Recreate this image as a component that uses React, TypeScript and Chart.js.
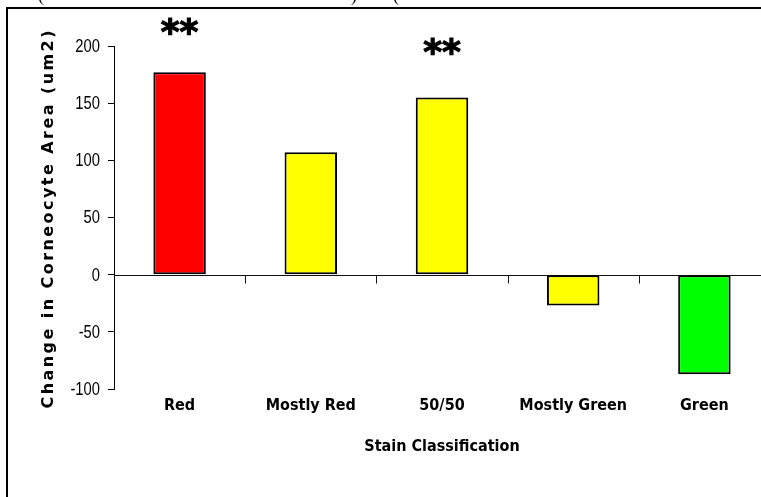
import React, { useEffect, useRef } from "react";
import { Chart, registerables } from "chart.js";

Chart.register(...registerables);

const categories = ["Red", "Mostly Red", "50/50", "Mostly Green", "Green"];
const values = [177, 107, 155, -27, -87];
const barColors = ["#FF0000", "#FFFF00", "#FFFF00", "#FFFF00", "#00FF00"];
const significance = ["**", "", "**", "", ""];
const significanceLevel = [215, null, 198, null, null];
const yMin = -100;
const yMax = 200;
const yStep = 50;
const yTitle = "Change in Corneocyte Area (um2)";
const xTitle = "Stain Classification";

const comicFont = "'DejaVu Sans Condensed', 'DejaVu Sans', sans-serif";

const decorPlugin = {
  id: "decor",
  beforeDraw(chart: any) {
    const ctx = chart.ctx;
    ctx.save();
    ctx.fillStyle = "#fff";
    ctx.fillRect(0, 0, chart.width, chart.height);
    ctx.strokeStyle = "#000";
    ctx.lineWidth = 2;
    ctx.beginPath();
    ctx.moveTo(7, chart.height + 2);
    ctx.lineTo(7, 8);
    ctx.lineTo(chart.width + 2, 8);
    ctx.stroke();
    ctx.fillStyle = "#000";
    ctx.font = "18px 'Liberation Serif', serif";
    ctx.textAlign = "center";
    ctx.textBaseline = "alphabetic";
    ctx.fillText("(", 41, 1);
    ctx.fillText(")", 354, 1);
    ctx.fillText("(", 396, 1);
    ctx.restore();
  },
  beforeDatasetsDraw(chart: any) {
    const ctx = chart.ctx;
    const { chartArea } = chart;
    const ys = chart.scales.y;
    const xs = chart.scales.x;
    const y0 = Math.round(ys.getPixelForValue(0)) + 0.5;
    ctx.save();
    ctx.strokeStyle = "#111";
    ctx.lineWidth = 1;
    ctx.beginPath();
    ctx.moveTo(chartArea.left, y0);
    ctx.lineTo(chart.width, y0);
    for (let i = 1; i <= categories.length; i++) {
      const x = Math.round(xs.getPixelForValue(i - 0.5)) + 0.5;
      ctx.moveTo(x, y0);
      ctx.lineTo(x, y0 + 8);
    }
    ctx.stroke();
    ctx.fillStyle = "#000";
    ctx.font = "18px 'Liberation Sans', Arial, sans-serif";
    ctx.textAlign = "right";
    ctx.textBaseline = "middle";
    const labelRight = chartArea.left - 14;
    ys.ticks.forEach((t: any) => {
      const y = ys.getPixelForValue(t.value);
      ctx.save();
      ctx.translate(labelRight, y + 1);
      ctx.scale(0.82, 1);
      ctx.fillText(String(t.value), 0, 0);
      ctx.restore();
    });
    ctx.restore();
  },
  afterDatasetsDraw(chart: any) {
    const ctx = chart.ctx;
    const { chartArea } = chart;
    const ys = chart.scales.y;
    const xs = chart.scales.x;
    ctx.save();
    ctx.fillStyle = "#000";
    ctx.strokeStyle = "#000";
    ctx.lineWidth = 1.2;
    ctx.font = "bold 36px 'DejaVu Sans', sans-serif";
    ctx.textAlign = "center";
    ctx.textBaseline = "middle";
    significance.forEach((s, i) => {
      const lvl = significanceLevel[i];
      if (!s || lvl == null) return;
      const px = xs.getPixelForValue(i);
      const py = ys.getPixelForValue(lvl) + 6;
      ctx.fillText(s, px, py);
      ctx.strokeText(s, px, py);
    });
    ctx.font = `bold 16px 'DejaVu Sans', sans-serif`;
    ctx.textBaseline = "alphabetic";
    const target = 378;
    const natural = ctx.measureText(yTitle).width;
    const spacing = (target - natural) / (yTitle.length - 1);
    (ctx as any).letterSpacing = `${spacing}px`;
    ctx.translate(53, (chartArea.top + chartArea.bottom) / 2 + 2);
    ctx.rotate(-Math.PI / 2);
    ctx.fillText(yTitle, spacing / 2, 0);
    ctx.restore();
    ctx.save();
    ctx.fillStyle = "#000";
    ctx.font = `bold 16px ${comicFont}`;
    ctx.textAlign = "center";
    ctx.textBaseline = "middle";
    ctx.fillText(xTitle, (chartArea.left + chartArea.right) / 2, 447);
    ctx.restore();
  },
};

export default function App() {
  const ref = useRef<HTMLCanvasElement | null>(null);
  useEffect(() => {
    const canvas = ref.current;
    if (!canvas) return;
    const chart = new Chart(canvas, {
      type: "bar",
      data: {
        labels: categories,
        datasets: [
          {
            data: values,
            backgroundColor: barColors,
            borderColor: "#000",
            borderWidth: 2,
            borderSkipped: false,
            barPercentage: 0.4,
            categoryPercentage: 1,
          },
        ],
      },
      options: {
        animation: false,
        responsive: false,
        devicePixelRatio: 1,
        layout: { padding: { top: 46, right: 10, left: 0, bottom: 0 } },
        plugins: { legend: { display: false }, tooltip: { enabled: false } },
        scales: {
          x: {
            offset: true,
            grid: { display: false, drawTicks: false },
            border: { display: false },
            ticks: {
              color: "#000",
              padding: 7,
              font: { family: comicFont, size: 16, weight: "bold" },
              maxRotation: 0,
              autoSkip: false,
            },
            afterFit: (s: any) => {
              s.height = 108;
            },
          },
          y: {
            min: yMin,
            max: yMax,
            grid: {
              drawOnChartArea: false,
              drawTicks: true,
              tickLength: 6,
              color: "#000",
              lineWidth: 1,
            },
            border: { display: true, color: "#000", width: 1 },
            ticks: {
              stepSize: yStep,
              display: false,
            },
            afterFit: (s: any) => {
              s.width = 114;
            },
          },
        },
      },
      plugins: [decorPlugin],
    });
    return () => chart.destroy();
  }, []);
  return (
    <div
      style={{
        position: "fixed",
        left: 0,
        top: 0,
        width: 761,
        height: 497,
        overflow: "hidden",
        background: "#fff",
      }}
    >
      <canvas ref={ref} width={780} height={497} style={{ display: "block", width: 780, height: 497 }} />
    </div>
  );
}
